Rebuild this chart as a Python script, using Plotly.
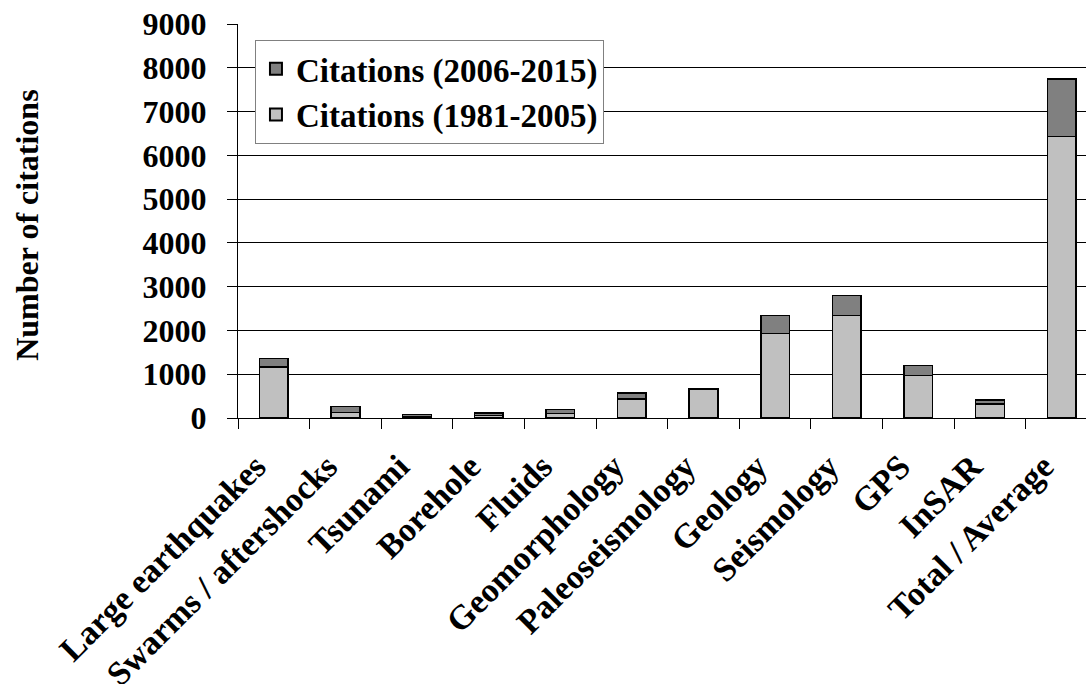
import plotly.graph_objects as go

categories = [
    "Large earthquakes", "Swarms / aftershocks", "Tsunami", "Borehole", "Fluids",
    "Geomorphology", "Paleoseismology", "Geology", "Seismology", "GPS", "InSAR",
    "Total / Average",
]
cites_1981_2005 = [1170, 130, 30, 60, 100, 435, 650, 1930, 2340, 970, 320, 6430]
cites_2006_2015 = [190, 135, 45, 60, 95, 135, 15, 410, 460, 230, 95, 1310]
y_ticks = [0, 1000, 2000, 3000, 4000, 5000, 6000, 7000, 8000, 9000]

FONT = "Liberation Serif, Times New Roman, serif"

fig = go.Figure()
fig.add_trace(go.Bar(
    x=categories, y=cites_1981_2005, name="Citations (1981-2005)",
    marker=dict(color="#c0c0c0", line=dict(color="black", width=1.5)),
    width=0.4,
))
fig.add_trace(go.Bar(
    x=categories, y=cites_2006_2015, name="Citations (2006-2015)",
    marker=dict(color="#808080", line=dict(color="black", width=1.5)),
    width=0.4,
))

fig.update_layout(
    width=1086,
    height=684,
    barmode="stack",
    plot_bgcolor="white",
    paper_bgcolor="white",
    font=dict(family=FONT, size=32, color="black", weight="bold"),
    margin=dict(l=238, r=0, t=24, b=266, autoexpand=False),
    legend=dict(
        x=0.02, y=0.96, xanchor="left", yanchor="top",
        traceorder="reversed",
        bgcolor="white", bordercolor="#808080", borderwidth=1,
        font=dict(family=FONT, size=33, color="black", weight="bold"),
        itemsizing="constant",
        tracegroupgap=0,
    ),
    annotations=[dict(
        text="Number of citations", textangle=-90,
        xref="paper", yref="paper", x=-0.249, y=0.49,
        xanchor="center", yanchor="middle", showarrow=False,
        font=dict(family=FONT, size=32, color="black", weight="bold"),
    )],
)
fig.update_xaxes(
    range=[-0.5, 11.34],
    tickangle=-45,
    tickson="boundaries",
    ticks="outside", ticklen=10, tickcolor="black",
    tickfont=dict(size=34),
    ticklabelshift=-18,
    ticklabelstandoff=14,
    ticklabeloverflow="allow",
    showline=True, linecolor="black", linewidth=1,
    showgrid=False,
    automargin=False,
)
fig.update_yaxes(
    range=[0, 9000],
    tickvals=y_ticks,
    ticks="outside", ticklen=10, tickcolor="black",
    ticklabelstandoff=14,
    ticklabeloverflow="allow",
    showline=True, linecolor="black", linewidth=1,
    showgrid=True, gridcolor="black", gridwidth=1,
    zeroline=False,
    automargin=False,
)

# drop the browser's default 8px body margin so the figure fills the window
fig.write_html(
    "out.html",
    config={"displayModeBar": False},
    post_script="document.body.style.margin = '0';",
)
